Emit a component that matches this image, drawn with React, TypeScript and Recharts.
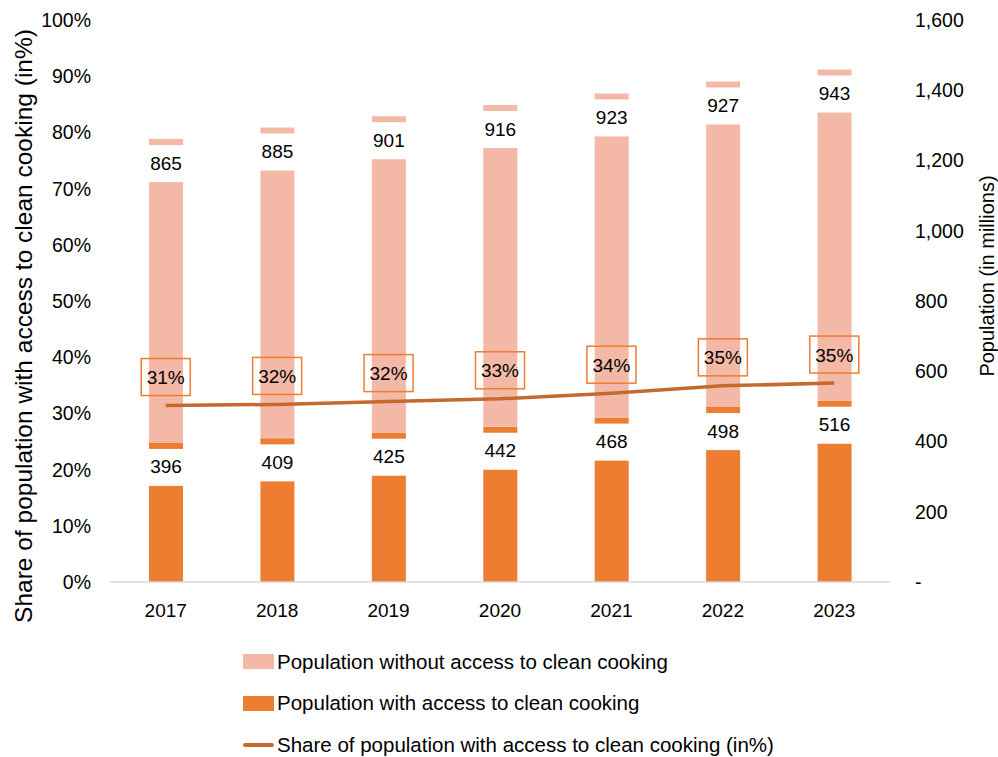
import { ComposedChart, Bar, Line, XAxis, YAxis, Legend, LabelList } from 'recharts';

const years = ['2017', '2018', '2019', '2020', '2021', '2022', '2023'];
const withAccess = [396, 409, 425, 442, 468, 498, 516];
const withoutAccess = [865, 885, 901, 916, 923, 927, 943];
const shareWithAccess = [0.314, 0.316, 0.321, 0.326, 0.336, 0.349, 0.354];

const pctTicks = [0, 0.1, 0.2, 0.3, 0.4, 0.5, 0.6, 0.7, 0.8, 0.9, 1];
const popTicks = [0, 200, 400, 600, 800, 1000, 1200, 1400, 1600];

const DARK = '#ED7D31';
const LIGHT = '#F4B9A6';
const LINE = '#C5692E';
const FONT = '"Liberation Sans", Arial, sans-serif';

const data = years.map((y, i) => ({
  year: y,
  withAccess: withAccess[i],
  withoutAccess: withoutAccess[i],
  share: shareWithAccess[i],
}));

const BarValueLabel = (props: any) => {
  const { x, y, width, value } = props;
  return (
    <g>
      <rect x={x - 4} y={y + 6} width={width + 8} height={37} fill="#fff" />
      <text x={x + width / 2} y={y + 24} textAnchor="middle" dominantBaseline="central"
        fontSize={19} fontFamily={FONT} fill="#000">{value}</text>
    </g>
  );
};

const ShareLabel = (props: any) => {
  const { x, y, value } = props;
  return (
    <g>
      <rect x={x - 24.5} y={y - 47} width={49} height={37} fill="none" stroke={DARK} strokeWidth={1.5} />
      <text x={x} y={y - 28} textAnchor="middle" dominantBaseline="central"
        fontSize={19} fontFamily={FONT} fill="#000">{Math.round(value * 100) + '%'}</text>
    </g>
  );
};

const legendItems = [
  { label: 'Population without access to clean cooking', type: 'rect', color: LIGHT },
  { label: 'Population with access to clean cooking', type: 'rect', color: DARK },
  { label: 'Share of population with access to clean cooking (in%)', type: 'line', color: LINE },
];

const LegendContent = () => (
  <div style={{ fontFamily: FONT, fontSize: 20.5, color: '#000' }}>
    {legendItems.map((it) => (
      <div key={it.label} style={{ display: 'flex', alignItems: 'center', height: 41.5 }}>
        {it.type === 'rect' ? (
          <span style={{ display: 'inline-block', width: 31, height: 15, background: it.color, marginRight: 3 }} />
        ) : (
          <span style={{ display: 'inline-block', width: 31, height: 4, background: it.color, marginRight: 3, borderRadius: 2 }} />
        )}
        <span>{it.label}</span>
      </div>
    ))}
  </div>
);

export default function App() {
  return (
    <div style={{ position: 'absolute', left: 0, top: 0, width: 998, height: 757, background: '#fff' }}>
      <ComposedChart width={998} height={757} data={data}
        margin={{ top: 20, right: 0, bottom: 115, left: 0 }} barSize={34}>
        <XAxis dataKey="year" tickLine={false} tickMargin={16} height={60}
          axisLine={{ stroke: '#D9D9D9', strokeWidth: 1.5 }}
          tick={{ fontSize: 19, fontFamily: FONT, fill: '#000' }} />
        <YAxis yAxisId="left" orientation="left" width={110} domain={[0, 1]} ticks={pctTicks}
          axisLine={false} tickLine={false} tickMargin={13}
          tickFormatter={(v: number) => Math.round(v * 100) + '%'}
          tick={{ fontSize: 19.5, fontFamily: FONT, fill: '#000' }}
          label={{ value: 'Share of population with access to clean cooking (in%)', angle: -90, position: 'insideLeft',
            dx: 18, dy: 25, style: { textAnchor: 'middle', fontSize: 24.5, fontFamily: FONT, fill: '#000' } }} />
        <YAxis yAxisId="right" orientation="right" width={108} domain={[0, 1600]} ticks={popTicks}
          axisLine={false} tickLine={false} tickMargin={19}
          tickFormatter={(v: number) => (v === 0 ? '-' : v.toLocaleString('en-US'))}
          tick={{ fontSize: 19.5, fontFamily: FONT, fill: '#000' }}
          label={{ value: 'Population (in millions)', angle: -90, position: 'insideRight',
            dx: -6, dy: -25, style: { textAnchor: 'middle', fontSize: 20, fontFamily: FONT, fill: '#000' } }} />
        <Bar yAxisId="right" dataKey="withAccess" stackId="a" fill={DARK} isAnimationActive={false}>
          <LabelList dataKey="withAccess" content={BarValueLabel} />
        </Bar>
        <Bar yAxisId="right" dataKey="withoutAccess" stackId="a" fill={LIGHT} isAnimationActive={false}>
          <LabelList dataKey="withoutAccess" content={BarValueLabel} />
        </Bar>
        <Line yAxisId="left" dataKey="share" stroke={LINE} strokeWidth={3.5} dot={false}
          type="linear" isAnimationActive={false}>
          <LabelList dataKey="share" content={ShareLabel} />
        </Line>
        <Legend layout="horizontal" verticalAlign="middle" align="center"
          wrapperStyle={{ left: 243, top: 641, width: 650 }} content={LegendContent} />
      </ComposedChart>
    </div>
  );
}
